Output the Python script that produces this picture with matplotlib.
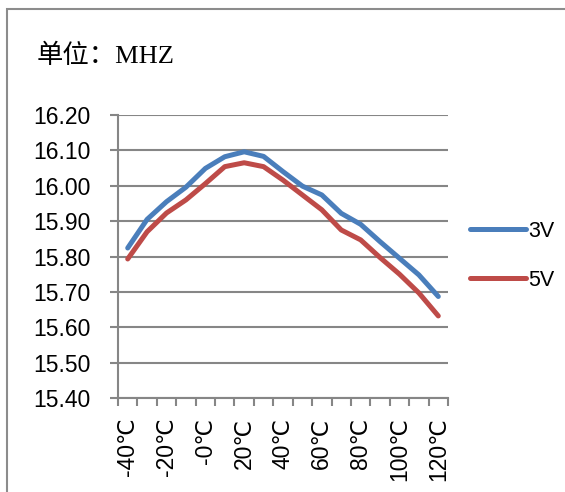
import numpy as np
import matplotlib
matplotlib.use('Agg')
import matplotlib.pyplot as plt
from matplotlib.patches import Rectangle

temps = ['-40℃', '-30℃', '-20℃', '-10℃', '-0℃', '10℃', '20℃', '30℃', '40℃',
         '50℃', '60℃', '70℃', '80℃', '90℃', '100℃', '110℃', '120℃']
freq_3v = [15.824, 15.905, 15.955, 15.996, 16.049, 16.082, 16.096, 16.083, 16.040,
           15.999, 15.974, 15.922, 15.891, 15.842, 15.795, 15.748, 15.687]
freq_5v = [15.793, 15.870, 15.923, 15.960, 16.006, 16.054, 16.065, 16.054, 16.016,
           15.974, 15.932, 15.875, 15.847, 15.797, 15.750, 15.697, 15.632]
yticks = [15.4, 15.5, 15.6, 15.7, 15.8, 15.9, 16.0, 16.1, 16.2]

W, H = 565, 492
fig = plt.figure(figsize=(W / 100, H / 100), dpi=100)
ax = fig.add_axes([118 / W, 1 - 398 / H, 330 / W, 283 / H])

grey = '#868686'
sans = ['Liberation Sans', 'DejaVu Sans']

x = np.arange(len(temps))
ax.plot(x, freq_3v, color='#4a7ebb', lw=3.6, solid_capstyle='round',
        solid_joinstyle='round', label='3V')
ax.plot(x, freq_5v, color='#be4b48', lw=3.6, solid_capstyle='round',
        solid_joinstyle='round', label='5V')

ax.set_xlim(-0.5, len(temps) - 0.5)
ax.set_ylim(15.4, 16.2)
ax.set_yticks(yticks)
ax.set_yticklabels(['%.2f' % v for v in yticks], fontsize=16.5, family=sans)
ax.yaxis.grid(True, color=grey, lw=1.5)
ax.set_axisbelow(True)

ax.set_xticks(x[::2])
ax.set_xticklabels(temps[::2], rotation=90, fontsize=16.5, family=sans)
ax.set_xticks(np.arange(len(temps) + 1) - 0.5, minor=True)
ax.tick_params(axis='x', which='major', length=0, pad=14)
ax.tick_params(axis='x', which='minor', length=5.8, width=1.5, color=grey)
ax.tick_params(axis='y', length=5.8, width=1.5, color=grey, pad=14)

for s in ['top', 'right']:
    ax.spines[s].set_visible(False)
for s in ['left', 'bottom']:
    ax.spines[s].set_color(grey)
    ax.spines[s].set_linewidth(1.5)

fig.legend(loc='center left', bbox_to_anchor=(470 / W, 1 - 256 / H), frameon=False,
           prop={'family': sans, 'size': 15.5}, handlelength=2.6, handletextpad=0.1,
           labelspacing=1.3, borderpad=0, borderaxespad=0)

fig.text(37 / W, 1 - 56 / H, '单位：MHZ', fontsize=19, va='center',
         family=['Liberation Serif', 'Noto Sans CJK SC'])

fig.patches.append(Rectangle((7 / W, -0.1), 1.2, 1.1 - 9 / H, transform=fig.transFigure,
                             fill=False, ec='#8c8c8c', lw=1.5))

fig.savefig('out.png', dpi=100)
